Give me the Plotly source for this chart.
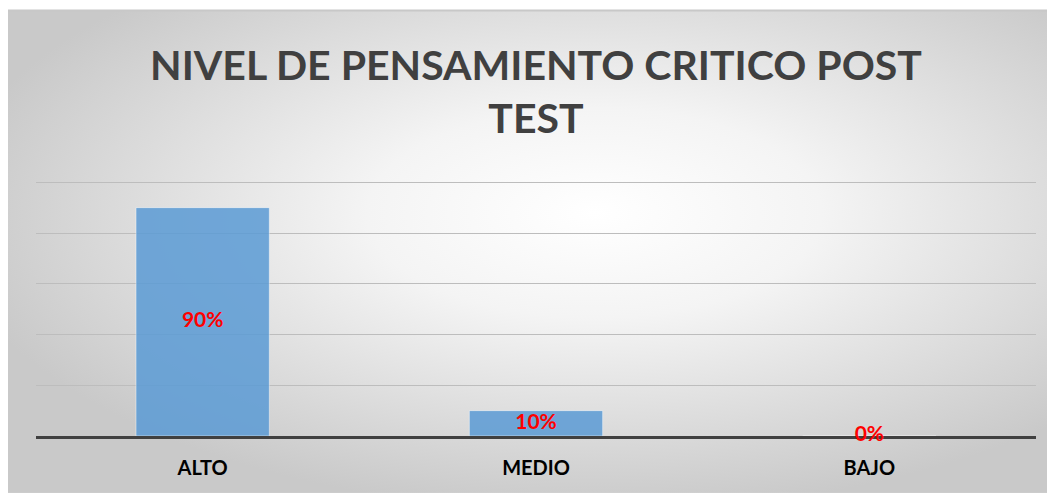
import plotly.graph_objects as go
import base64

categories = ["ALTO", "MEDIO", "BAJO"]
values = [90, 10, 0]
labels = ["90%", "10%", "0%"]
title_text = "NIVEL DE PENSAMIENTO CRITICO POST<br>TEST"

# page body has an 8px margin; figure occupies 8..1055 x 8..493
OFF = 8
W, H = 1055 - OFF, 493 - OFF
YMAX = 100.5
ph = 254 * YMAX / 100
T = 436 - ph - OFF
L, R, B = 36 - OFF, 19, H - (436 - OFF)
pw = W - L - R

svg = (
    '<svg xmlns="http://www.w3.org/2000/svg" width="1048" height="483" preserveAspectRatio="none">'
    '<defs><radialGradient id="g" cx="0.56" cy="0.42" r="0.62" gradientUnits="objectBoundingBox">'
    '<stop offset="0" stop-color="#ffffff"/><stop offset="0.35" stop-color="#f4f4f4"/>'
    '<stop offset="1" stop-color="#c9c9c9"/></radialGradient></defs>'
    '<rect x="0" y="0" width="1048" height="483" fill="url(#g)"/></svg>'
)
bg_uri = "data:image/svg+xml;base64," + base64.b64encode(svg.encode()).decode()

bg_top = 10 - OFF  # figure px
fig = go.Figure()
fig.add_trace(go.Bar(
    x=categories, y=values,
    marker=dict(color="#5b9bd5", opacity=0.85, line=dict(color="rgba(255,255,255,0.5)", width=1)),
    width=0.4,
    hoverinfo="skip",
))
fig.add_trace(go.Scatter(
    x=categories, y=[v / 2 for v in values], text=labels, mode="text",
    textfont=dict(family="Lato", size=21, color="#ff0000", weight="bold"),
    textposition="middle center", hoverinfo="skip", cliponaxis=False,
))

fig.update_layout(
    width=W, height=H,
    margin=dict(l=L, r=R, t=T, b=B, autoexpand=False),
    paper_bgcolor="#ffffff",
    plot_bgcolor="rgba(0,0,0,0)",
    showlegend=False,
    title=dict(
        text=title_text,
        x=0.5, xref="paper", xanchor="center",
        y=1 - (91 - OFF - 11) / H, yref="container", yanchor="middle",
        font=dict(family="Lato", size=41, color="#404040", weight="bold"),
    ),
    images=[dict(
        source=bg_uri, xref="paper", yref="paper",
        x=(0 - L) / pw, y=(H - B - bg_top) / ph,
        sizex=W / pw, sizey=(H - bg_top) / ph,
        sizing="stretch", xanchor="left", yanchor="top", layer="below",
    )],
    shapes=[dict(type="line", xref="paper", yref="paper",
                 x0=(0 - L) / pw, x1=(W - L) / pw,
                 y0=(H - B - bg_top) / ph, y1=(H - B - bg_top) / ph,
                 line=dict(color="#c8c8c8", width=2), layer="below")],
    bargap=0.6,
)
fig.update_xaxes(
    showline=True, linecolor="#404040", linewidth=3, layer="below traces",
    showgrid=False, ticks="", ticklabelstandoff=12,
    tickfont=dict(family="Lato", size=20, color="#000000", weight="bold"),
)
fig.update_yaxes(
    range=[0, YMAX], dtick=20, showticklabels=False,
    showgrid=True, gridcolor="#bdbdbd", gridwidth=1, zeroline=False,
)

fig.write_html("out.html")
